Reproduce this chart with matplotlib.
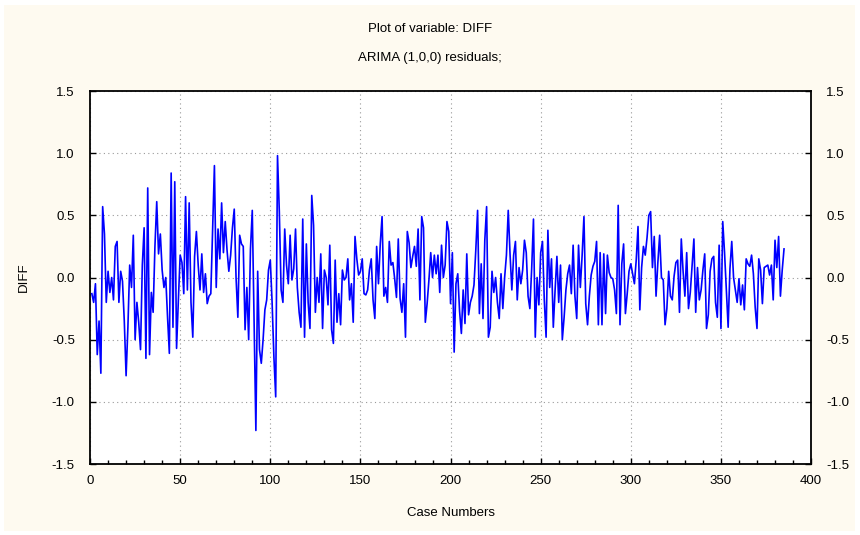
import numpy as np
import matplotlib
matplotlib.use("Agg")
import matplotlib.pyplot as plt
from matplotlib.patches import Rectangle
from matplotlib.ticker import MultipleLocator

# residuals, case by case
resid_001_050 = [-0.13, -0.20, -0.05, -0.62, -0.35, -0.77, 0.57, 0.35, -0.20, 0.05,
                 -0.12, 0.00, -0.18, 0.25, 0.29, -0.20, 0.05, -0.03, -0.35, -0.79,
                 -0.40, 0.10, -0.08, 0.34, -0.50, -0.20, -0.36, -0.58, 0.10, 0.40,
                 -0.65, 0.72, -0.62, -0.12, -0.28, 0.25, 0.61, 0.19, 0.35, 0.06,
                 -0.08, 0.00, -0.32, -0.61, 0.84, -0.40, 0.77, -0.57, -0.18, 0.18]
resid_051_100 = [0.12, -0.13, 0.65, -0.10, 0.60, -0.20, -0.48, 0.17, 0.37, 0.10,
                 -0.10, 0.19, -0.12, 0.03, -0.21, -0.15, -0.13, 0.39, 0.90, -0.08,
                 0.39, 0.15, 0.60, 0.20, 0.45, 0.22, 0.05, 0.18, 0.40, 0.55,
                 0.00, -0.32, 0.34, 0.27, 0.25, -0.42, -0.08, -0.50, 0.23, 0.54,
                 -0.35, -1.23, 0.05, -0.58, -0.69, -0.50, -0.26, -0.18, 0.06, 0.14]
resid_101_150 = [-0.20, -0.64, -0.96, 0.98, 0.53, -0.10, -0.20, 0.39, 0.10, -0.05,
                 0.34, -0.02, 0.07, 0.39, -0.08, -0.28, -0.40, 0.47, -0.48, 0.27,
                 -0.20, -0.41, 0.66, 0.42, -0.28, 0.00, -0.20, 0.19, -0.41, 0.06,
                 0.00, -0.22, 0.26, -0.42, -0.53, 0.14, -0.36, -0.13, -0.38, 0.06,
                 -0.02, 0.00, 0.15, -0.18, -0.05, -0.36, 0.33, 0.15, 0.02, 0.05]
resid_151_200 = [0.15, -0.13, -0.14, -0.10, 0.06, 0.15, -0.18, -0.33, 0.25, -0.05,
                 0.27, 0.49, -0.15, -0.08, -0.20, 0.29, 0.10, 0.12, -0.01, -0.16,
                 0.31, -0.17, -0.28, -0.05, -0.48, 0.37, 0.28, 0.08, 0.17, 0.25,
                 0.09, 0.39, -0.18, 0.49, 0.40, -0.36, -0.21, -0.02, 0.20, 0.00,
                 0.18, 0.03, 0.18, -0.12, 0.26, 0.00, 0.10, 0.45, 0.37, -0.21]
resid_201_250 = [0.20, -0.60, -0.05, 0.03, -0.27, -0.45, -0.10, -0.37, 0.19, -0.30,
                 -0.20, -0.15, -0.06, 0.22, 0.54, -0.29, 0.11, -0.33, 0.30, 0.57,
                 -0.48, -0.40, 0.05, -0.12, 0.00, -0.20, -0.33, 0.03, -0.25, 0.00,
                 0.18, 0.54, 0.19, -0.10, 0.18, 0.29, -0.18, 0.08, -0.05, 0.06,
                 0.30, 0.20, -0.15, -0.25, 0.07, 0.47, -0.48, 0.00, -0.22, 0.20]
resid_251_300 = [0.29, -0.18, -0.48, 0.38, -0.08, 0.15, -0.40, -0.10, 0.17, -0.20,
                 0.10, -0.50, -0.32, -0.10, 0.03, 0.10, -0.13, 0.26, -0.15, -0.33,
                 0.26, -0.08, 0.18, 0.49, -0.21, -0.38, -0.15, 0.02, 0.09, 0.13,
                 0.29, -0.38, 0.20, -0.38, 0.19, -0.29, 0.18, 0.04, 0.00, -0.01,
                 -0.10, -0.29, 0.58, -0.38, 0.11, 0.27, -0.29, -0.13, 0.05, 0.11]
resid_301_350 = [0.03, -0.05, 0.14, 0.41, -0.26, 0.08, 0.25, 0.18, 0.32, 0.50,
                 0.53, 0.08, 0.33, -0.15, 0.12, 0.34, 0.00, -0.02, -0.38, -0.25,
                 0.05, -0.15, -0.18, 0.01, 0.12, 0.14, -0.28, 0.31, 0.05, -0.15,
                 0.20, -0.25, -0.12, 0.10, 0.31, -0.28, 0.08, -0.18, -0.10, 0.06,
                 0.19, -0.41, -0.30, 0.05, 0.15, 0.17, -0.20, -0.32, 0.26, -0.41]
resid_351_385 = [0.45, 0.20, -0.10, -0.40, 0.07, 0.29, 0.00, -0.10, -0.20, -0.01,
                 -0.22, -0.06, -0.26, 0.15, 0.11, 0.09, 0.18, 0.03, -0.24, -0.41,
                 0.15, 0.06, -0.21, 0.08, 0.09, 0.10, 0.02, 0.10, -0.18, 0.30,
                 0.08, 0.33, -0.15, 0.06, 0.23]

diff = np.array(resid_001_050 + resid_051_100 + resid_101_150 + resid_151_200
                + resid_201_250 + resid_251_300 + resid_301_350 + resid_351_385)
cases = np.arange(1, len(diff) + 1)

x_ticks = [0, 50, 100, 150, 200, 250, 300, 350, 400]
y_ticks = [-1.5, -1.0, -0.5, 0.0, 0.5, 1.0, 1.5]

plt.rcParams['font.family'] = ['Liberation Sans', 'DejaVu Sans']
plt.rcParams['font.size'] = 9.5

fig = plt.figure(figsize=(8.6, 5.35), dpi=100, facecolor='white')
# cream panel behind everything
fig.patches.append(Rectangle((4 / 860, 4 / 535), 851 / 860, 526 / 535,
                             transform=fig.transFigure, facecolor='#fefaf0',
                             edgecolor='none', zorder=-10))

ax = fig.add_axes([0.1047, 0.1327, 0.8384, 0.6972])
ax.set_facecolor('white')
ax.plot(cases, diff, color='#0000ff', lw=1.2)

ax.set_xlim(0, 400)
ax.set_ylim(-1.5, 1.5)
ax.set_xticks(x_ticks)
ax.set_yticks(y_ticks)
ax.set_yticklabels([f"{v:.1f}" for v in y_ticks])
ax.xaxis.set_minor_locator(MultipleLocator(10))
ax.grid(True, which='major', linestyle=(0, (1, 3)), color='#999999', lw=0.8)
ax.tick_params(which='both', direction='in', length=4, width=1, colors='black',
               labelsize=9.5, right=True, labelright=True, top=False)
ax.tick_params(axis='x', pad=8)
ax.tick_params(axis='y', pad=11)
ax.tick_params(which='minor', length=3, left=False, right=False)
for s in ax.spines.values():
    s.set_linewidth(1.3)

ax.set_xlabel('Case Numbers', labelpad=14)
ax.set_ylabel('DIFF', labelpad=16)
fig.text(0.5, 0.946, 'Plot of variable: DIFF', ha='center', va='center', fontsize=9.5)
fig.text(0.5, 0.892, 'ARIMA (1,0,0) residuals;', ha='center', va='center', fontsize=9.5)

fig.savefig('out.png', dpi=100, facecolor=fig.get_facecolor())
